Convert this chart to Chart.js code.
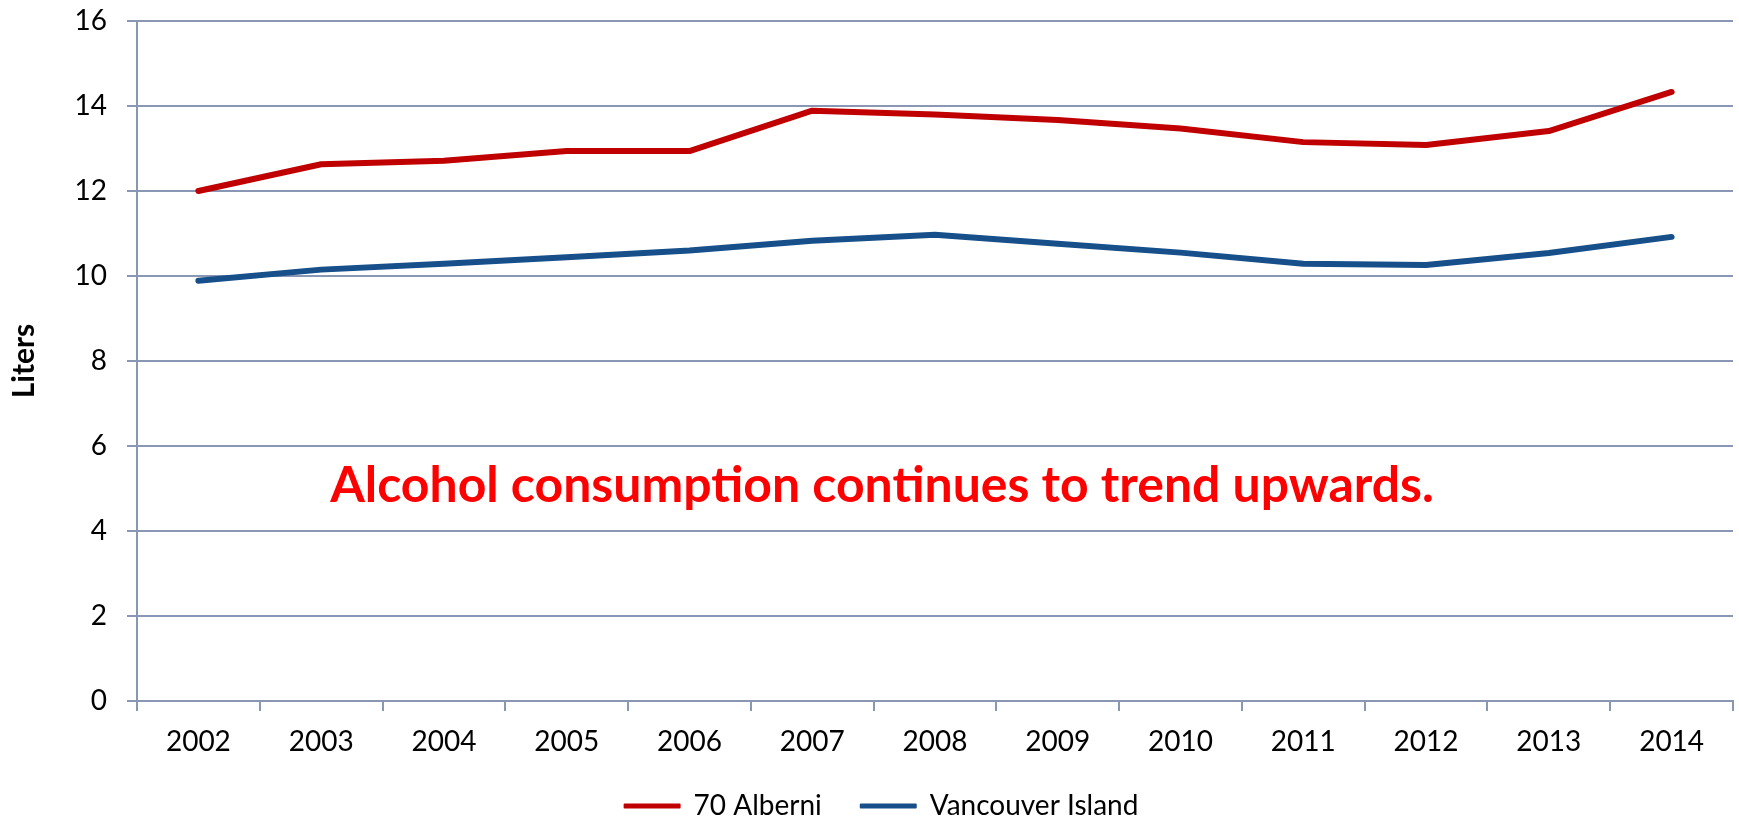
<!DOCTYPE html>
<html>
<head>
<meta charset="utf-8">
<script src="https://cdn.jsdelivr.net/npm/chart.js@4/dist/chart.umd.min.js"></script>
<style>
  body { margin: 0; background: #fff; }
  #wrap { width: 1739px; height: 820px; position: relative; }
</style>
</head>
<body>
<div id="wrap"><canvas id="myChart"></canvas></div>
<script>
// values
const years = ['2002', '2003', '2004', '2005', '2006', '2007', '2008', '2009', '2010', '2011', '2012', '2013', '2014'];
const alberni = [12.0, 12.63, 12.71, 12.94, 12.94, 13.89, 13.80, 13.67, 13.47, 13.15, 13.08, 13.41, 14.33];
const island = [9.89, 10.15, 10.29, 10.44, 10.60, 10.83, 10.97, 10.76, 10.55, 10.29, 10.26, 10.54, 10.92];
const yTicks = [0, 2, 4, 6, 8, 10, 12, 14, 16];
const note = 'Alcohol consumption continues to trend upwards.';

const gridCol = '#8a97b4';
const fontFam = 'Lato, "Open Sans", sans-serif';

// red note in the middle of the plot
const notePlugin = {
    id: 'note',
    afterLayout(chart) {
        // legend sits a bit right of centre in the original
        chart.legend.left += 15;
        chart.legend.right += 15;
    },
    afterDraw(chart) {
        const c = chart.ctx;
        c.save();
        let size = 50;
        c.font = 'bold ' + size + 'px ' + fontFam;
        let w = c.measureText(note).width;
        size = size * 1104 / w;
        c.font = 'bold ' + size + 'px ' + fontFam;
        c.fillStyle = '#ff0000';
        c.textAlign = 'center';
        c.textBaseline = 'alphabetic';
        c.fillText(note, 882, 502);
        c.restore();
    }
};

const ctx = document.getElementById('myChart');

new Chart(ctx, {
    type: 'line',
    data: {
        labels: years,
        datasets: [
            {
                label: '70 Alberni',
                data: alberni,
                borderColor: '#c00000',
                backgroundColor: '#c00000',
                borderWidth: 6,
                pointRadius: 0,
                tension: 0,
                borderCapStyle: 'round',
                borderJoinStyle: 'round'
            },
            {
                label: 'Vancouver Island',
                data: island,
                borderColor: '#174f8a',
                backgroundColor: '#174f8a',
                borderWidth: 6,
                pointRadius: 0,
                tension: 0,
                borderCapStyle: 'round',
                borderJoinStyle: 'round'
            }
        ]
    },
    options: {
        responsive: true,
        maintainAspectRatio: false,
        animation: false,
        layout: {
            padding: { top: 21, right: 6, left: 0, bottom: -10 }
        },
        scales: {
            x: {
                offset: true,
                grid: {
                    offset: true,
                    drawOnChartArea: false,
                    drawTicks: true,
                    tickLength: 10,
                    color: gridCol,
                    lineWidth: 2
                },
                border: { color: gridCol, width: 2 },
                ticks: {
                    color: '#000',
                    padding: 14,
                    maxRotation: 0,
                    font: { family: fontFam, size: 28 }
                },
                afterFit: function (scale) { scale.height = 52; }
            },
            y: {
                min: 0,
                max: 16,
                afterBuildTicks: function (scale) {
                    scale.ticks = yTicks.map(v => ({ value: v }));
                },
                grid: {
                    color: gridCol,
                    lineWidth: 2,
                    tickLength: 10
                },
                border: { color: gridCol, width: 2 },
                ticks: {
                    color: '#000',
                    padding: 20,
                    font: { family: fontFam, size: 28 }
                },
                title: {
                    display: true,
                    text: 'Liters',
                    color: '#000',
                    padding: { top: 6, bottom: 0 },
                    font: { family: fontFam, size: 30, weight: 'bold' }
                },
                afterFit: function (scale) {
                    scale.width = 137;
                    scale.paddingTop = 0;
                    scale.paddingBottom = 0;
                }
            }
        },
        plugins: {
            legend: {
                display: true,
                position: 'bottom',
                labels: {
                    color: '#000',
                    boxWidth: 55,
                    boxHeight: 3,
                    padding: 39,
                    font: { family: fontFam, size: 28 },
                    generateLabels: function (chart) {
                        let items = Chart.defaults.plugins.legend.labels.generateLabels(chart);
                        items.forEach(function (it) {
                            it.lineWidth = 2;
                            it.lineCap = 'round';
                            it.fillStyle = it.strokeStyle;
                        });
                        return items;
                    }
                }
            },
            tooltip: { enabled: false }
        }
    },
    plugins: [notePlugin]
});
</script>
</body>
</html>
